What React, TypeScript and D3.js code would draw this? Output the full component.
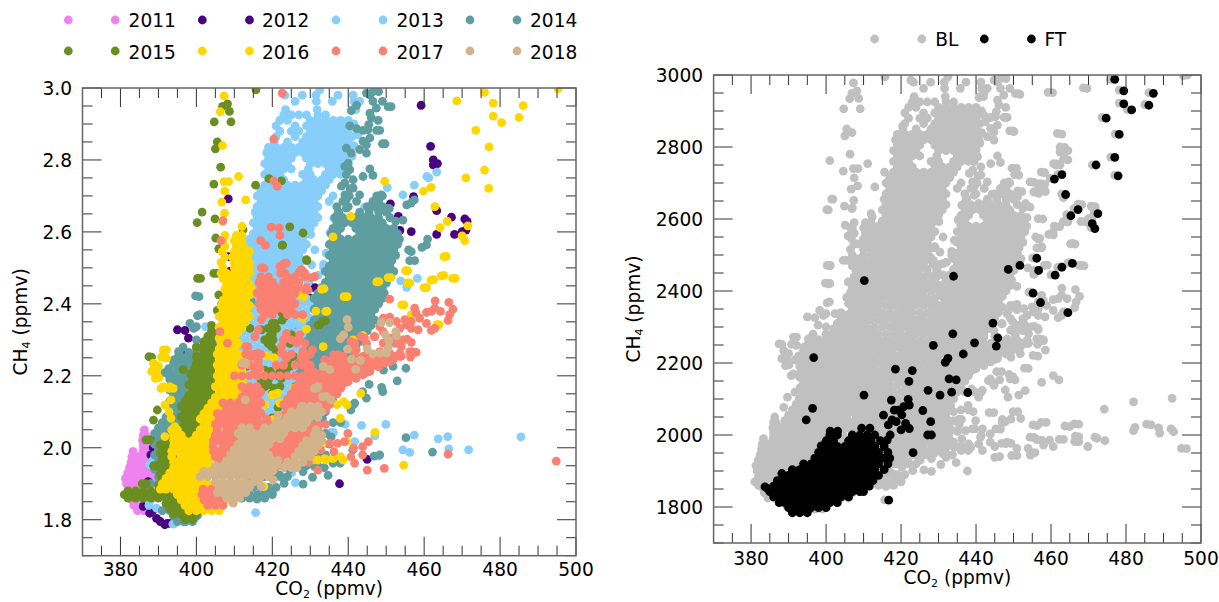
import React, { useRef, useEffect } from 'react';
import * as d3 from 'd3';

type Row = number[]; // [ch4, co2, co2, ...]
type Pair = [number, number]; // [co2, ch4]

// Values. Dense clouds are kept as rows: first number is CH4, the rest CO2.
const years = ['2011', '2012', '2013', '2014', '2015', '2016', '2017', '2018'];
const yearColors = ['#EE82EE', '#4B0082', '#87CEFA', '#5F9EA0', '#6B8E23', '#FFD700', '#FA8072', '#D2B48C'];

const rows2011: Row[] = [
  [2.05, 386.3], [2.035, 386, 386.6], [2.02, 385.8, 387], [2.005, 386, 387.4], [1.99, 383.3, 385.9, 387.5],
  [1.975, 383, 384.8, 386.6, 388], [1.96, 382.8, 384, 385.6, 387.4, 389], [1.945, 382.4, 383.6, 385.4, 387, 388.8],
  [1.93, 381.9, 383, 384.6, 386.2, 388, 389.5], [1.915, 381.3, 383.4, 385.2, 387, 389], [1.90, 381.6, 383, 384.6, 386.4, 388],
  [1.885, 382, 383.6, 385.4, 387.2], [1.87, 382.5, 384.4, 386.2], [1.855, 383, 384.8, 386.6, 388], [1.84, 383.5, 385.4, 387],
  [1.825, 384.5, 386.2],
];

const pairs2012: Pair[] = [
  [386, 1.837], [387.7, 1.818], [389.5, 1.804], [391.7, 1.786], [390.5, 1.795], [393, 1.79], [388.5, 1.825], [392.3, 1.79],
  [389, 2.03], [388.6, 2.0], [388, 1.98], [387.3, 1.906], [395, 2.328], [397, 2.326], [397.9, 2.305], [389.6, 2.015],
  [396, 2.263], [399.2, 2.2], [400.9, 2.217], [400.5, 2.18], [406.6, 2.397], [409.7, 2.532], [414.5, 2.561],
  [431.2, 2.445], [429.9, 2.416], [429.9, 2.357], [425.5, 2.328], [459.2, 2.952], [461.7, 2.838], [462.4, 2.8],
  [462.4, 2.786], [463.5, 2.79], [408.4, 2.692], [451.1, 2.678], [457.2, 2.698], [463.3, 2.659], [467.2, 2.641],
  [470.7, 2.636], [471.3, 2.629], [453.2, 2.643], [452.4, 2.605], [453.6, 2.604], [456.6, 2.601], [463.3, 2.593],
  [468, 2.593], [470, 2.601], [471, 2.605], [413.8, 2.561], [408.4, 2.531], [430.1, 2.446], [428.6, 2.415],
  [437.7, 1.9], [445, 1.968], [396.5, 2.24], [398.5, 2.2], [408.8, 2.49], [413.8, 2.49], [419, 2.38],
];

const rows2013: Row[] = [
  [2.925, 423, 425, 427, 429, 432, 434], [2.91, 422, 424, 430, 432, 434, 436, 438, 440], [2.895, 421, 426, 429, 431, 433, 435, 437, 439],
  [2.88, 422, 425, 427, 430, 432, 434, 436, 438, 440], [2.865, 421, 426, 429, 431, 433, 435, 437, 439, 441],
  [2.85, 420.5, 424, 428, 430, 432, 434, 436, 438, 440], [2.835, 419, 421, 423, 425, 427, 429, 431, 433, 435, 437, 439],
  [2.82, 418.5, 420, 422, 424, 426, 428, 430, 432, 434, 436, 438, 440], [2.805, 419, 421, 423, 425, 429, 431, 433, 435, 437, 439],
  [2.79, 418, 420, 422, 424, 430, 432, 434, 436, 438], [2.775, 419, 421, 423, 425, 429.5, 435, 437, 439],
  [2.76, 418, 420, 422, 428, 430, 434, 436, 438], [2.745, 419, 421, 423, 429, 431, 433, 435],
  [2.73, 418, 420, 422, 424, 426, 428, 430, 432, 434], [2.715, 417, 419, 421, 423, 425, 427, 429, 431, 433],
  [2.70, 416, 418, 420, 422, 424, 426, 428, 430, 432, 436], [2.685, 417, 419, 421, 423, 425, 427, 429, 431, 435],
  [2.67, 416, 418, 420, 422, 424, 426, 428, 430, 432], [2.655, 415.5, 417, 419, 421, 423, 425, 427, 429, 431],
  [2.64, 416, 418, 420, 422, 424, 426, 428, 430, 432], [2.625, 415, 417, 419, 421, 423, 425, 427, 429, 431],
  [2.61, 416, 418, 420, 422, 424, 426, 428, 430], [2.595, 415, 417, 419, 421, 423, 425, 427, 429],
  [2.58, 414, 416, 418, 420, 422, 424, 426, 428], [2.565, 413.5, 415, 417, 419, 421, 423, 425, 427, 429],
  [2.55, 414, 416, 418, 420, 422, 424, 426, 428], [2.535, 413, 415, 417, 419, 421, 423, 425, 427],
  [2.52, 414, 416, 418, 420, 422, 424, 426, 428], [2.505, 413, 415, 417, 419, 421, 423, 425, 427],
  [2.49, 414, 416, 418, 420, 422, 424, 426], [2.475, 413, 415, 417, 419, 421, 423, 425], [2.46, 412, 414, 416, 418, 420, 422, 424],
  [2.445, 413, 415, 417, 419, 421, 423], [2.43, 414, 416, 418, 420, 422, 424], [2.415, 413, 415, 417, 419, 421, 423, 427, 429],
  [2.40, 412, 414, 416, 418, 420, 422, 424, 426, 428, 430], [2.38, 411, 413, 415, 417, 419, 421, 423, 425, 427, 429],
  [2.36, 410, 412, 414, 416, 418, 420, 422, 424, 426, 428, 430], [2.34, 411, 413, 415, 417, 419, 421, 423, 425, 427, 429, 431],
  [2.32, 404, 412, 414, 416, 418, 420, 422, 424, 426, 428, 430], [2.30, 405, 411, 413, 415, 417, 419, 421, 423, 425, 427, 429, 431],
  [2.28, 404, 412, 414, 416, 418, 420, 422, 424, 426, 428, 430], [2.26, 403, 411, 413, 415, 417, 419, 421, 423, 425, 427, 429],
  [2.24, 402, 412, 414, 416, 418, 420, 422, 424, 426, 428, 430], [2.22, 411, 413, 415, 417, 419, 421, 423, 425, 427, 429, 431],
  [2.20, 412, 414, 416, 418, 420, 422, 424, 426, 428, 430], [2.18, 411, 413, 415, 417, 419, 421, 423, 425, 427, 429],
  [2.16, 412, 414, 416, 418, 420, 422, 424, 426, 428], [2.14, 411, 413, 415, 417, 419, 421, 423, 425, 427],
  [2.12, 412, 414, 416, 418, 420, 422, 424], [2.10, 411, 413, 415, 417, 419, 421, 423], [2.08, 418, 420, 422],
];
const pairs2013: Pair[] = [
  [423.3, 2.98], [427.9, 2.98], [431.5, 2.98], [437.3, 2.98], [441.3, 2.98], [426, 2.963], [431.6, 2.963],
  [435.8, 2.963], [441.5, 2.963], [443, 2.963], [423.5, 2.94], [431.8, 2.94], [441, 2.94], [442, 2.94], [432.5, 2.995],
  [415.6, 1.82], [435.4, 2.043], [439.2, 2.065], [443.5, 2.062], [449.9, 2.065], [447, 2.033], [457.4, 2.035],
  [463.7, 2.025], [466.2, 2.031], [466.5, 1.997], [454.4, 1.994], [456.2, 1.987], [471.7, 1.994], [485.5, 2.03],
  [441.7, 2.017], [448, 1.977], [426.1, 1.903], [425.1, 1.93], [393.8, 1.788], [396.5, 1.795], [388.6, 1.966],
  [387.7, 1.953], [387.6, 1.851], [389.5, 1.832], [394.3, 1.79], [397.4, 1.795], [399.6, 1.804], [436.1, 2.043],
  [407.4, 2.406], [427.6, 2.22], [431.1, 2.216], [402.4, 2.337], [402.9, 2.27], [463.3, 2.766], [460.7, 2.754],
  [461.2, 2.75], [457.4, 2.73], [454.4, 2.703], [450.3, 2.723], [444.3, 2.669], [436.2, 2.638], [430.1, 2.593],
  [435.2, 2.598], [434.2, 2.541], [430.4, 2.508], [432.1, 2.48], [453.8, 2.464], [455.4, 2.446], [458.2, 2.471],
  [450.1, 2.457], [431.2, 2.55], [433.5, 2.5], [429.5, 2.46], [431, 2.41], [433.5, 2.51], [389, 1.97], [387.5, 1.84],
  [441.5, 2.9], [442.5, 2.87], [441.5, 2.84], [441, 2.81],
];

const rows2014: Row[] = [
  [2.70, 447.5, 449], [2.685, 446.5, 448], [2.67, 437, 440, 445, 447, 449], [2.655, 437.5, 443, 445.5, 448, 450],
  [2.64, 436.5, 438.5, 440.5, 442, 444, 446, 448, 451], [2.625, 437, 439, 441, 443, 445, 447, 449],
  [2.61, 436, 438, 442, 444, 446, 448, 450, 452], [2.595, 435.5, 437, 443, 445, 447, 449, 451, 453],
  [2.58, 436, 438, 440, 442, 444, 446, 448, 450, 452, 453.5], [2.565, 435, 437, 439, 441, 443, 445, 447, 449, 451, 453],
  [2.55, 436, 438, 440, 442, 444, 446, 448, 450, 452], [2.535, 435, 437, 439, 441, 443, 445, 447, 449, 451, 452.5],
  [2.52, 436, 438, 440, 442, 444, 446, 448, 450, 451.5], [2.505, 435, 437, 439, 441, 443, 445, 447, 449, 451],
  [2.49, 434, 436, 438, 440, 442, 444, 446, 448, 450, 452], [2.475, 435, 437, 439, 441, 443, 445, 447, 449, 451],
  [2.46, 434, 436, 438, 440, 442, 444, 446, 448, 450], [2.445, 433, 435, 437, 439, 441, 443, 445, 447, 449],
  [2.43, 432, 434, 436, 438, 440, 442, 444, 446, 448, 449.5], [2.415, 431, 433, 435, 437, 439, 441, 443, 445, 447, 449],
  [2.40, 432, 434, 436, 438, 440, 442, 444, 446, 448], [2.385, 431, 433, 435, 437, 439, 441, 443, 445, 447],
  [2.37, 432, 434, 436, 438, 440, 442, 444, 446], [2.355, 431, 433, 435, 437, 439, 441, 443, 445, 447],
  [2.34, 430, 432, 434, 436, 438, 440, 442, 444, 446], [2.325, 431, 433, 435, 437, 439, 441, 443, 445],
  [2.31, 430, 432, 434, 436, 438, 440, 442, 444], [2.295, 429, 431, 433, 435, 437, 439, 441, 443],
  [2.28, 430, 432, 434, 436, 438, 440, 442], [2.265, 429, 431, 433, 435, 437, 439, 441], [2.25, 428, 430, 432, 434, 436, 438, 440],
  [2.235, 427, 429, 431, 433, 435, 437], [2.22, 428, 430, 432, 434, 436], [2.205, 427, 429, 431, 433, 435], [2.19, 428, 430, 432, 434],
  [2.17, 426, 428, 430, 432, 434, 436, 438], [2.15, 427, 429, 431, 433, 435, 437], [2.13, 426, 428, 430, 432, 434, 436],
  [2.10, 424, 426, 428, 430, 432, 434], [2.07, 423, 425, 427, 429, 431, 433, 436], [2.04, 422, 424, 426, 428, 430, 432, 434],
  [2.01, 421, 423, 425, 427, 429, 431, 433, 435], [1.98, 420, 422, 424, 426, 428, 430, 432, 434], [1.95, 419, 421, 423, 425, 427, 429, 432],
  [1.92, 414, 416, 418, 420, 422, 424], [1.89, 413, 415, 417, 419, 421], [1.87, 412, 414, 416, 418, 420],
  // left arm, under the 2015 and 2016 bands
  [2.30, 400], [2.28, 396.5, 400], [2.265, 395.5, 398, 400], [2.25, 395, 397, 399], [2.235, 394, 396, 398], [2.22, 392.7, 395, 397, 399],
  [2.205, 392.6, 394, 396, 398, 400], [2.19, 393, 395, 397, 399, 401], [2.175, 394, 396, 398, 400, 402], [2.16, 393, 395, 397, 399],
  [2.145, 394, 396, 398], [2.13, 393, 395, 397], [2.115, 394, 396], [2.10, 393, 395, 397], [2.085, 392, 394, 396], [2.07, 391, 393, 395],
  [2.055, 390, 392, 394, 396], [2.04, 389, 391, 393, 395], [2.025, 390, 392, 394, 396], [2.01, 389, 391, 393, 395], [1.995, 390, 392, 394],
  [1.98, 389, 391, 393, 395], [1.96, 390, 392, 394], [1.94, 389, 391, 393], [1.92, 390, 392], [1.90, 388, 390],
  [1.825, 391, 393, 395, 397, 399], [1.81, 394, 396, 398, 400], [1.795, 395, 397, 399],
];
const pairs2014: Pair[] = [
  [446.5, 2.99], [445.7, 2.981], [446.5, 2.963], [449, 2.963], [442.2, 2.952], [440.8, 2.937], [451.3, 2.948],
  [447.4, 2.944], [445.7, 2.93], [446.1, 2.917], [447.9, 2.91], [445.4, 2.898], [448.3, 2.882], [440.4, 2.895],
  [442.2, 2.887], [443.9, 2.882], [445.2, 2.884], [445.7, 2.861], [443.9, 2.852], [449.7, 2.845], [444.8, 2.842],
  [439.5, 2.833], [440.8, 2.819], [443, 2.829], [444.8, 2.819], [440, 2.791], [439.1, 2.782], [445.7, 2.775],
  [439.5, 2.759], [443.9, 2.754], [446.5, 2.757], [441.3, 2.745], [439.1, 2.736], [438.2, 2.727], [441.3, 2.722],
  [439.1, 2.703], [443, 2.703], [442.2, 2.685], [438.6, 2.685], [448.7, 2.703], [447.4, 2.68], [450.8, 2.665],
  [439.5, 2.666], [437.3, 2.652], [440.4, 2.773], [444.8, 2.986], [448, 2.99], [440.5, 2.72], [440.3, 2.7], [439.5, 2.69],
  [459.4, 2.557], [460.9, 2.58], [455.9, 2.55], [456.2, 2.52], [455.4, 2.675], [457.4, 2.689], [450.3, 2.666],
  [454.4, 2.633], [449, 2.845], [447.5, 2.882], [450.5, 2.948], [456.6, 2.545], [457.5, 2.52], [460.6, 2.564],
  [452.5, 2.63], [456.5, 2.68],
  [455.2, 2.221], [452.9, 2.186], [448.8, 2.168], [449.1, 2.156], [445.5, 2.176], [444.8, 2.138], [443.8, 2.156],
  [441.3, 2.119], [440.7, 2.105], [441.7, 2.124], [451.8, 2.226], [449.3, 2.216], [433.2, 2.082], [432.4, 2.068],
  [428.1, 1.934], [430.6, 1.918], [428.1, 1.899], [423.1, 1.901], [422, 1.924], [424.5, 1.94], [434.7, 1.923],
  [433.7, 1.945], [431.1, 1.948], [437.9, 1.957], [436, 1.957], [441.2, 1.994], [455.2, 2.028], [462.2, 1.988],
  [446.8, 1.977], [448.3, 1.98], [420, 1.874], [418, 1.872], [416, 1.857], [414, 1.86], [412, 1.86], [418, 1.86],
  [400.3, 1.813], [398.8, 1.804], [396.8, 1.795], [394.5, 1.82], [392.5, 1.84],
  [391.7, 2.209], [394.1, 2.244], [395.3, 2.267], [399.3, 2.332], [400.3, 2.367], [398.3, 2.346], [400.7, 2.42],
  [400.9, 2.37], [400, 2.337], [414.5, 2.406], [399.8, 2.422], [435.5, 2.03], [438, 2.07],
];

const rows2015: Row[] = [
  [1.88, 382, 384, 386, 388, 390, 392, 394], [1.87, 381, 383, 385, 387, 389, 391, 393, 395, 397], [1.86, 382, 384, 386, 388, 390, 392, 394, 396],
  [1.845, 392, 394, 396, 398], [1.83, 393, 395, 397, 399], [1.815, 394, 396, 398, 400], [1.80, 397, 399],
  [1.895, 390, 392, 394], [1.91, 391, 393], [1.925, 390.5, 392.5, 394], [1.94, 391, 393], [1.955, 390.5, 392.5, 394], [1.97, 391, 393],
  [1.985, 390.5, 392.5, 394], [2.0, 391, 393], [2.015, 391.5, 393.5], [2.025, 398, 400], [2.04, 397, 399, 401], [2.055, 396, 398, 400],
  [2.07, 397, 399, 401], [2.085, 396, 398, 400, 402], [2.10, 397, 399, 401, 403], [2.115, 396, 398, 400, 402, 404],
  [2.13, 397, 399, 401, 403, 405], [2.145, 398, 400, 402, 404, 406], [2.16, 399, 401, 403, 405], [2.175, 398, 400, 402, 404],
  [2.19, 399, 401, 403, 405], [2.205, 398.5, 400, 402, 404], [2.22, 399.5, 401, 403, 405], [2.235, 400, 402, 404], [2.25, 401, 403, 405],
  [2.265, 402, 404], [2.28, 401.5, 403, 405], [2.295, 402, 404], [2.31, 403, 405], [2.325, 404, 405.5], [2.34, 404],
];
const pairs2015: Pair[] = [
  [401.1, 2.471], [405.4, 2.485], [406, 2.553], [422.7, 2.563], [429.1, 2.52], [388.2, 2.252], [405.5, 2.382], [405.3, 2.306],
  [400, 2.279], [400, 2.254], [396.5, 2.217], [432.5, 2.343], [434, 2.353], [415.7, 2.995], [408.2, 2.956], [406.9, 2.949],
  [408.7, 2.935], [404.7, 2.906], [409.1, 2.906], [405.5, 2.85], [405, 2.831], [406.4, 2.78], [404.6, 2.733], [415.6, 2.73],
  [419.1, 2.748], [422.4, 2.742], [401.5, 2.655], [400.2, 2.626], [404.9, 2.636], [405.1, 2.583], [405.9, 2.553], [424.6, 2.614],
  [428.1, 2.597], [422.6, 2.563], [412.3, 2.606], [429, 2.523], [400.3, 2.471], [404.6, 2.485], [405.9, 2.425],
  [387.5, 2.253], [389.7, 2.105], [388.7, 2.077], [386.7, 2.022], [388.7, 1.95], [385.7, 1.9], [386.8, 1.9], [389.5, 1.948],
  [390.4, 2.008], [387.7, 2.022], [419.3, 2.309], [420.2, 2.3], [418.9, 2.291], [419.8, 2.281], [421.1, 2.332], [418.9, 2.332],
  [417.1, 2.328], [414.1, 2.332], [420.7, 2.346], [423.7, 2.383], [423.3, 2.365], [422.4, 2.42], [425.5, 2.254], [424.6, 2.226],
  [422, 2.212], [422.4, 2.193], [422, 2.17], [418.9, 2.175], [418, 2.175], [413.2, 2.226], [417, 2.189], [419.5, 2.212], [418, 2.17],
  [420, 2.151], [418, 2.216], [422.6, 2.355], [420, 2.346], [422.6, 2.374], [425.1, 2.253], [425.1, 2.314], [424.6, 2.29],
  [433.2, 2.351], [432.1, 2.341], [420, 2.083], [421.5, 2.112], [419, 2.29], [421, 2.27], [420, 2.315], [418, 2.3], [421.5, 2.2],
  [423.5, 2.21], [424, 2.24], [419, 2.19], [420.5, 2.165],
];

const rows2016: Row[] = [
  [1.825, 398, 400, 402, 404, 406], [1.84, 397, 399, 401, 403, 405, 407], [1.855, 396, 398, 400, 402, 404, 406, 408],
  [1.87, 395, 397, 399, 401, 403, 405, 407], [1.885, 390.5, 392, 394, 396, 398, 400, 402, 404], [1.90, 391, 393, 395, 397, 399, 401, 403],
  [1.915, 392, 394, 396, 398, 400, 402], [1.93, 393, 395, 397, 399, 401, 403], [1.945, 394, 396, 398, 400, 402, 404],
  [1.96, 394, 395, 397, 399, 401, 403], [1.975, 393.5, 396, 398, 400, 402, 404], [1.99, 393.5, 395, 397, 399, 401, 403, 405],
  [2.005, 394, 396, 398, 400, 402, 404], [2.02, 394, 395, 397, 399, 401, 403, 405], [2.035, 394, 396, 400, 402, 404, 405.5],
  [2.05, 393.5, 395, 401, 403, 405], [2.065, 402, 404, 406], [2.08, 401, 403, 405, 407], [2.095, 402, 404, 406, 408],
  [2.11, 403, 405, 407, 409], [2.125, 404, 406, 408, 410], [2.14, 405, 407, 409, 411], [2.155, 406, 408, 410, 412],
  [2.17, 405, 407, 409, 411, 413], [2.185, 406, 408, 410, 412], [2.20, 405.5, 407, 409, 411, 412.5], [2.215, 406, 408, 410, 412],
  [2.23, 405.5, 407, 409, 411], [2.245, 406, 408, 410, 411.5], [2.26, 405.5, 407, 409, 411], [2.275, 406, 408, 410],
  [2.29, 406.5, 407, 409, 411], [2.305, 406, 408, 410], [2.32, 406.5, 407.5, 409, 411], [2.335, 406, 408, 410, 412],
  [2.35, 407, 409, 411, 413], [2.365, 406, 408, 410, 412, 414], [2.38, 407, 409, 411, 413], [2.395, 406.5, 408, 410, 412, 414],
  [2.41, 407, 409, 411, 413], [2.425, 408, 410, 412, 414], [2.44, 407.5, 409, 411, 413, 414.5], [2.455, 408, 410, 412, 414],
  [2.47, 407, 409, 411, 413], [2.485, 406.5, 408, 410, 412, 414], [2.50, 407, 410, 412, 414], [2.515, 406.5, 410, 412, 414],
  [2.53, 407.5, 409.5, 411.5, 413.5], [2.545, 406.8, 410, 412, 414], [2.56, 407.5, 410.5, 412.5], [2.575, 407, 410, 412], [2.59, 407.5, 410.5, 412],
];
const pairs2016: Pair[] = [
  [412, 2.615], [391.3, 2.272], [392.1, 2.272], [390.8, 2.252], [392.1, 2.249], [389, 2.23], [390, 2.226], [389.5, 2.212],
  [390.1, 2.195], [391.3, 2.17], [393, 2.17], [393.9, 2.165], [388.7, 2.235], [388.2, 2.212], [389.2, 2.193], [390.7, 2.165],
  [392.8, 2.165], [393.3, 2.133], [391.7, 2.119], [392.8, 2.1], [393.3, 2.082], [394.3, 2.059], [391.7, 2.031],
  [468.6, 2.964], [475.9, 2.988], [478.2, 2.958], [486.1, 2.951], [478.2, 2.922], [480.4, 2.904], [485, 2.918], [473.6, 2.882],
  [477.1, 2.836], [475.9, 2.772], [471, 2.75], [477, 2.721], [449.6, 2.741], [459.8, 2.713], [461.8, 2.724], [462.8, 2.67],
  [466.1, 2.629], [464.2, 2.612], [471.5, 2.617], [470, 2.589], [470.7, 2.576], [440.7, 2.643], [436, 2.586], [465.2, 2.531],
  [455.1, 2.492], [447.5, 2.461], [450.5, 2.473], [455.6, 2.458], [460, 2.445], [461.8, 2.466], [464.5, 2.478], [467.5, 2.471],
  [433, 2.441], [438.9, 2.42], [427.8, 2.422], [407.3, 2.978], [406.3, 2.934], [406.9, 2.84], [411.1, 2.754], [407.3, 2.74],
  [408.5, 2.74], [407.5, 2.714], [406.7, 2.683], [413, 2.689], [407.4, 2.652], [406.9, 2.629], [495.3, 2.998],
  [465.8, 2.532], [465.2, 2.479], [468.2, 2.471], [462.5, 2.467], [460.6, 2.445], [455.7, 2.492], [456.2, 2.458], [451.2, 2.473],
  [448.1, 2.462], [439.7, 2.42], [434.1, 2.379], [433.6, 2.442], [454.7, 2.397], [456.6, 2.37], [463.9, 2.342], [441.3, 2.3],
  [443.9, 2.312], [433.4, 2.281], [437.9, 2.082], [447, 2.043], [454.6, 1.952], [443.3, 2.151], [439.7, 2.119], [438.8, 2.128],
  [438, 1.975], [434.2, 1.966], [432, 1.966], [439.7, 2.017], [417.5, 1.894], [463.3, 2.342], [454.1, 2.397], [433.2, 2.013],
  [430.8, 1.966], [413.5, 2.114], [415, 2.11], [420, 2.147], [421, 2.15], [424.1, 2.133], [425.1, 2.124], [422, 2.124], [425.6, 2.165],
  [407.9, 2.091], [419.5, 2.068], [419, 2.059], [421.5, 2.152], [414.9, 2.115], [419.3, 2.055], [420.2, 2.078], [433.8, 1.97],
  [436, 1.97], [438.6, 1.966], [417.8, 1.892], [435, 2.13], [437, 2.12], [429, 2.33], [428.3, 2.42], [431.5, 2.38], [434.4, 2.38],
  [413.4, 2.243], [418.5, 2.255], [420.5, 2.25], [416.8, 2.21], [428, 2.36], [408.5, 2.1], [411, 2.1], [413, 2.13], [418, 2.12],
];

const rows2017: Row[] = [
  [1.84, 403, 405, 407], [1.855, 402, 404, 406], [1.87, 401.5, 403, 405], [1.885, 401.8, 404],
  [1.945, 419, 421], [1.96, 406, 408, 410, 420, 422, 424], [1.975, 405, 407, 409, 411, 421, 423, 425],
  [1.99, 404.5, 406, 408, 410, 412, 420, 422, 424, 426, 428], [2.005, 404.4, 407, 409, 411, 413, 421, 423, 425, 427, 429],
  [2.02, 404.5, 406, 408, 410, 412, 414, 424, 426, 428, 430], [2.035, 405, 407, 409, 411, 413, 415, 417, 425, 427, 429, 431],
  [2.05, 405.5, 408, 410, 412, 414, 416, 418, 428, 430, 432], [2.065, 405, 407, 409, 411, 413, 415, 417, 419, 430, 432, 434],
  [2.08, 406, 408, 410, 412, 414, 416, 418.5], [2.09, 423, 425, 427, 429], [2.095, 405.5, 407, 409, 411, 413, 415, 417],
  [2.105, 424, 426, 428, 430, 432, 434], [2.11, 408, 410, 412, 414, 416], [2.12, 423, 425, 427, 429, 431, 433, 435],
  [2.125, 407, 409, 411, 413, 415, 417], [2.135, 424, 426, 428, 430, 432, 434], [2.14, 412, 414, 416],
  [2.15, 425, 427, 429, 431, 433, 435, 437], [2.155, 413, 415, 417], [2.165, 426, 428, 430, 432, 434, 436, 438],
  [2.17, 412, 414, 416], [2.18, 427, 429, 431, 433, 435, 437, 439], [2.195, 430, 432, 434, 436, 438, 440, 442],
  [2.21, 431, 433, 435, 437, 439, 441, 443, 445], [2.225, 434, 436, 438, 440, 442, 444, 446, 448],
  [2.24, 435, 437, 439, 441, 443, 445, 447, 449, 451], [2.255, 438, 442, 444, 446, 448, 450, 452, 454],
  [2.20, 410, 412, 414, 416, 418, 420, 422, 424, 426, 428], [2.23, 412, 414, 416, 421, 423, 426, 428, 430],
  [2.26, 413, 415, 417, 423, 425, 428, 430], [2.30, 423, 425, 427],
  [2.37, 418, 420, 424, 426, 428], [2.385, 417, 419, 421, 423, 425], [2.40, 416.5, 418, 420, 422, 424, 426],
  [2.415, 417, 419, 421, 423, 425], [2.43, 416, 418, 420, 422, 424, 426], [2.445, 417, 419, 421, 423, 425, 427, 429],
  [2.46, 416.5, 418, 420, 423, 425, 427], [2.475, 417, 419, 424, 426, 428.5],
];
const pairs2017: Pair[] = [
  [450.9, 2.413], [462.9, 2.408], [466.5, 2.404], [457.5, 2.388], [457.9, 2.374], [467.6, 2.385], [462.8, 2.388], [460.6, 2.376],
  [461.9, 2.379], [464.3, 2.379], [466.7, 2.37], [466.3, 2.354], [460.6, 2.346], [462.8, 2.332], [461.9, 2.326], [458.4, 2.328],
  [458.8, 2.36], [456.6, 2.351], [454.9, 2.356], [455.3, 2.342], [456.6, 2.332], [452.7, 2.351], [450.9, 2.363], [449.2, 2.36],
  [453.6, 2.332], [448.3, 2.337], [449.2, 2.323], [455.5, 2.302], [456.6, 2.293], [454, 2.281], [457.9, 2.265], [456.2, 2.267],
  [456.4, 2.252], [453.6, 2.254], [451.8, 2.244], [449.6, 2.235], [447.9, 2.226], [445.7, 2.212], [443.9, 2.203], [442.1, 2.193],
  [440, 2.184], [437.8, 2.175], [436, 2.166], [453.6, 2.263], [450.9, 2.263], [450, 2.249], [448.3, 2.24], [445.7, 2.235],
  [443.9, 2.226], [441.7, 2.221], [440, 2.212], [437.8, 2.207], [436, 2.203], [435.1, 2.189], [447, 2.309], [444.3, 2.305],
  [441.7, 2.291], [442.1, 2.272], [449.2, 2.291], [451.4, 2.305], [452.7, 2.3], [437.3, 2.258], [438.6, 2.254], [433.8, 2.244], [436, 2.24],
  [417.8, 2.499], [423.7, 2.513], [422.8, 2.508], [423.3, 2.485], [427.7, 2.495], [428.6, 2.485], [431.2, 2.476], [429.4, 2.439],
  [406.2, 2.323], [408.2, 2.291], [417.1, 2.356], [416.3, 2.328], [415.4, 2.309],
  [427.2, 2.314], [423.7, 2.318], [422.9, 2.3], [422.4, 2.281], [426.4, 2.291], [428.6, 2.291], [430.6, 2.272], [428.1, 2.268],
  [427.7, 2.249], [428.6, 2.244], [423.7, 2.249], [422.9, 2.23], [422.4, 2.263], [413.6, 2.281], [414.5, 2.254], [416.3, 2.263],
  [416.3, 2.24], [415.4, 2.212], [416.7, 2.221], [429.4, 2.217], [433.8, 2.244],
  [413, 2.281], [413.5, 2.258], [436.2, 2.258], [437.7, 2.235], [440.7, 2.295], [440.7, 2.272], [444.3, 2.253], [443.3, 2.309],
  [446.8, 2.309], [444.8, 2.29], [448.3, 2.267], [452.4, 2.29], [454.4, 2.3], [456.9, 2.267],
  [422.6, 2.986], [420.4, 2.858], [420.4, 2.742], [421.3, 2.727], [407, 2.631], [406.5, 2.576], [419.7, 2.613], [421.8, 2.611],
  [422, 2.59], [416.9, 2.576], [418.2, 2.563], [417.1, 2.5], [422, 2.504], [423.1, 2.512], [422.2, 2.485], [427.1, 2.488],
  [428.1, 2.49], [430.3, 2.473], [428.6, 2.44],
  [439.9, 2.04], [435.2, 2.012], [437.2, 2.012], [439, 2.017], [436.2, 1.989], [440.7, 1.975], [441.4, 1.999], [443.8, 2.003],
  [445.3, 2.017], [443.8, 1.98], [441.7, 1.957], [445, 1.938], [449.5, 1.943], [432, 1.938], [432.7, 1.994], [466.3, 1.982], [494.8, 1.963],
  [429.5, 1.96],
];

const rows2018: Row[] = [
  [1.846, 409.7], [1.86, 408, 410, 411.4], [1.875, 405.5, 407, 409, 411, 413], [1.89, 406, 408, 410, 412, 414],
  [1.905, 405, 407, 409, 411, 413, 415, 416.5], [1.92, 401, 403, 405, 407, 409, 411, 413, 415, 417, 419],
  [1.935, 402, 404, 406, 408, 410, 412, 414, 416, 418, 420], [1.945, 423, 425, 426.5], [1.95, 405, 407, 409, 411, 413, 415, 417, 419, 421],
  [1.96, 424, 426, 428], [1.965, 408, 410, 412, 414, 416, 418, 420, 421.5], [1.975, 426, 428, 430], [1.98, 409, 411, 413, 415, 417, 419],
  [1.99, 427, 429, 431], [1.995, 410, 412, 414, 416, 418], [2.005, 428, 430, 432], [2.01, 411, 413, 415, 417, 419],
  [2.02, 429, 431, 433], [2.025, 412, 414, 416, 418, 420, 422], [2.035, 431, 433], [2.04, 411, 413, 415, 417, 419, 421, 423],
  [2.05, 431.5], [2.055, 412, 414, 418, 420, 422, 424, 426, 428], [2.07, 421, 423, 425, 427, 429], [2.085, 424, 426, 428, 430, 432],
  [2.10, 425, 427, 429, 431, 433], [2.115, 428, 430, 432],
];
const pairs2018: Pair[] = [
  [420.2, 1.911], [417.1, 1.892], [412.9, 2.133], [431.9, 2.166], [434.2, 2.143], [435.5, 2.133], [428.1, 2.115], [421.5, 2.09],
  [439.7, 2.356], [440, 2.335], [438.8, 2.314], [437.9, 2.303], [439.8, 2.274], [448.7, 2.348], [450.9, 2.348], [452.5, 2.323],
  [452.7, 2.311], [449.8, 2.314], [450.7, 2.298], [450.5, 2.277], [450, 2.263], [448.3, 2.263], [446.5, 2.261], [445, 2.275],
  [440.8, 2.246], [443.2, 2.243], [442, 2.218], [435.1, 2.217], [433.4, 2.226], [413, 2.233], [432, 2.17], [412, 2.235],
  [431.1, 2.165], [433.2, 2.142], [427.6, 2.114],
];

// grey points seen only in the right panel
const pairsBLExtra: Pair[] = [
  [482, 2092], [492.3, 2102], [474.2, 2072], [482.4, 2021], [482, 2012], [486.7, 2028], [488.7, 2020], [489, 2005], [492, 2017],
  [492.7, 2009], [496.1, 1962], [464.9, 2023], [467.4, 2030], [456.3, 2026], [458.7, 2035], [455.5, 1993], [457.5, 1986], [458, 1972],
  [459.6, 1986], [460.6, 1968], [463.3, 1988], [467.4, 1995], [467.4, 1981], [469.8, 1968], [472.3, 1991], [474.4, 1984], [453.9, 1963],
  [454.5, 1944], [455.7, 1951], [450.9, 1963], [450.9, 1943], [449.3, 1977], [447.8, 1977], [446.3, 1940], [451.1, 2065], [451.9, 2046],
  [449.3, 2044], [447.8, 2037], [444.7, 2062], [446.5, 2016], [460.6, 2165], [462.1, 2153], [457.5, 2146], [453.9, 2185], [449.8, 2162],
  [450.4, 2153], [447.8, 2125], [448.5, 2105], [451.4, 2111], [453.1, 2123], [446.3, 2153], [444.7, 2143], [446.8, 2176], [456.5, 2219],
  [458.5, 2236], [458, 2262], [456.5, 2296], [462.9, 2836], [463.6, 2799], [463.4, 2782], [464.5, 2790], [464.5, 2764], [461.6, 2753],
  [462.4, 2750], [458.3, 2729], [455.5, 2702], [458.3, 2696], [456.7, 2671], [458.5, 2676], [452.2, 2676], [451.1, 2662], [450.8, 2741],
  [451.4, 2722], [468.2, 2640], [471.8, 2634], [469.3, 2593], [470.8, 2602], [464.5, 2592], [462.3, 2579], [460.6, 2556], [457.8, 2600],
  [466.4, 2530], [468.8, 2470], [459, 2472], [457.5, 2523], [457, 2546], [469.6, 2963], [460.4, 2951], [451.7, 2946], [450.1, 2843],
  [496.4, 3000], [401, 2762], [401, 2470], [401, 2421], [400.6, 2625], [401.8, 2655],
];

const pairsFT: Pair[] = [
  [477, 2988], [479.4, 2956], [487.3, 2949], [479.4, 2920], [481.5, 2903], [486.1, 2916], [474.7, 2880], [478.2, 2835], [477, 2771],
  [472, 2750], [477.9, 2720], [460.9, 2711], [462.9, 2723], [463.9, 2668], [467.2, 2626], [465.3, 2609], [472.5, 2615], [471, 2587],
  [471.7, 2573], [456.2, 2491], [451.7, 2471], [448.6, 2460], [456.7, 2457], [465.7, 2477], [462.9, 2466], [461.1, 2444], [410.2, 2429],
  [434, 2441], [455.2, 2394], [457.2, 2368], [464.5, 2340], [444.5, 2311], [433.8, 2281], [445.8, 2270], [439.6, 2256], [428.6, 2249],
  [445.4, 2247], [436.6, 2225], [432.5, 2213], [431.8, 2202], [396.7, 2215], [418.5, 2183], [423, 2179], [432.8, 2156], [434.7, 2153],
  [422.1, 2149], [427.2, 2124], [433.5, 2119], [437.8, 2118], [430.4, 2111], [410.1, 2111], [417.4, 2097], [421.9, 2099], [396.4, 2074],
  [425.8, 2068], [415.3, 2055], [394.7, 2042], [427.9, 2037], [422.2, 2018], [416.6, 2028], [417.6, 2042], [418.2, 2069], [419.2, 2069],
  [420.7, 2079], [422.2, 2083], [420.2, 2056], [418.7, 2037], [421.2, 2032], [420, 2014], [417.1, 2000], [416.3, 1986], [427.1, 2000],
  [428.1, 2000], [423.2, 1951], [416.7, 1819], [401.1, 2011], [403.1, 2011], [409.5, 2019], [411.7, 2019], [398.7, 1970], [388.2, 1893],
  [383.7, 1856], [384.5, 1850],
];
const rowsFT: Row[] = [
  [1784, 391, 393, 395], [1798, 390, 392, 394, 396, 398, 400], [1812, 387.5, 389, 391, 393, 395, 397, 399, 401, 403],
  [1828, 386, 388, 390, 392, 394, 396, 398, 400, 402, 404, 406], [1843, 385, 387, 389, 391, 393, 395, 397, 399, 401, 403, 405, 407, 409, 410],
  [1858, 386, 388, 390, 392, 394, 396, 398, 400, 402, 404, 406, 408, 410, 411.5],
  [1873, 387, 389, 391, 393, 395, 397, 399, 401, 403, 405, 407, 409, 411, 412.5],
  [1888, 390, 392, 394, 396, 398, 400, 402, 404, 406, 408, 410, 412, 414],
  [1904, 391, 393, 395, 397, 399, 401, 403, 405, 407, 409, 411, 413, 415.5],
  [1920, 394, 396, 398, 400, 402, 404, 406, 408, 410, 412, 414, 416.5],
  [1936, 397, 399, 401, 403, 405, 407, 409, 411, 413, 415, 417],
  [1952, 398, 400, 402, 404, 406, 408, 410, 412, 414, 416.5],
  [1968, 399, 401, 403, 405, 407, 409, 411, 413, 415.5],
  [1984, 400, 402, 406, 408, 410, 412, 414.5], [2000, 401, 403, 407, 409, 411, 413],
];

const tiltRows = (rows: Row[]): Pair[] => rows.flatMap(([ch4, ...co2]) => co2.map((c): Pair => [c, ch4]));

const yearPoints: Pair[][] = [
  tiltRows(rows2011),
  pairs2012,
  [...tiltRows(rows2013), ...pairs2013],
  [...tiltRows(rows2014), ...pairs2014],
  [...tiltRows(rows2015), ...pairs2015],
  [...tiltRows(rows2016), ...pairs2016],
  [...tiltRows(rows2017), ...pairs2017],
  [...tiltRows(rows2018), ...pairs2018],
];
// the right panel is the same flights, split by layer instead of year
const pointsBL: Pair[] = [...yearPoints.flat().map(([c, m]): Pair => [c, m * 1000]), ...pairsBLExtra];
const pointsFT: Pair[] = [...tiltRows(rowsFT), ...pairsFT];

const FONT = 'DejaVu Sans';
const R = 4.4;

function drawPanel(svg, id, box, yDomain, yMajor, yMinor, yFormat, series, yLabelX, tickDy, labelY) {
  const x = d3.scaleLinear().domain([370, 500]).range([box.left, box.right]);
  const y = d3.scaleLinear().domain(yDomain).range([box.bottom, box.top]);
  const g = svg.append('g');

  g.append('clipPath').attr('id', id).append('rect')
    .attr('x', box.left).attr('y', box.top)
    .attr('width', box.right - box.left).attr('height', box.bottom - box.top);

  series.forEach(s => {
    g.append('g').attr('clip-path', `url(#${id})`)
      .selectAll('circle').data(s.points).join('circle')
      .attr('cx', d => x(d[0])).attr('cy', d => y(d[1])).attr('r', R).attr('fill', s.color);
  });

  const xMajor = d3.range(380, 501, 20);
  const xMinor = d3.range(375, 501, 5).filter(v => !xMajor.includes(v));
  const ticks = g.append('g').attr('stroke', '#333').attr('stroke-width', 1);
  const vTick = (v, len) => {
    ticks.append('line').attr('x1', x(v)).attr('x2', x(v)).attr('y1', box.bottom).attr('y2', box.bottom - len);
    ticks.append('line').attr('x1', x(v)).attr('x2', x(v)).attr('y1', box.top).attr('y2', box.top + len);
  };
  const hTick = (v, len) => {
    ticks.append('line').attr('y1', y(v)).attr('y2', y(v)).attr('x1', box.left).attr('x2', box.left + len);
    ticks.append('line').attr('y1', y(v)).attr('y2', y(v)).attr('x1', box.right).attr('x2', box.right - len);
  };
  xMajor.forEach(v => vTick(v, 19));
  xMinor.forEach(v => vTick(v, 10));
  yMajor.forEach(v => hTick(v, 19));
  yMinor.forEach(v => hTick(v, 10));

  g.append('rect')
    .attr('x', box.left).attr('y', box.top)
    .attr('width', box.right - box.left).attr('height', box.bottom - box.top)
    .attr('fill', 'none').attr('stroke', '#666').attr('stroke-width', 1.5);

  const text = g.append('g').attr('font-family', FONT).attr('font-size', 18.6).attr('fill', '#000');
  xMajor.forEach(v => {
    text.append('text').attr('x', x(v)).attr('y', box.bottom + tickDy).attr('text-anchor', 'middle').text(v);
  });
  yMajor.forEach(v => {
    text.append('text').attr('x', box.left - 10.5).attr('y', y(v) + 6.8).attr('text-anchor', 'end').text(yFormat(v));
  });

  const xl = text.append('text').attr('x', (box.left + box.right) / 2).attr('y', labelY).attr('text-anchor', 'middle');
  xl.append('tspan').text('CO');
  xl.append('tspan').attr('font-size', 11).attr('dy', 3).text('2');
  xl.append('tspan').attr('dy', -3).text(' (ppmv)');

  const yl = text.append('text').attr('text-anchor', 'middle')
    .attr('transform', `translate(${yLabelX},${(box.top + box.bottom) / 2}) rotate(-90)`);
  yl.append('tspan').text('CH');
  yl.append('tspan').attr('font-size', 11).attr('dy', 3).text('4');
  yl.append('tspan').attr('dy', -3).text(' (ppmv)');
}

function legendEntry(svg, x1, x2, tx, cy, base, color, label) {
  svg.selectAll(null).data([x1, x2]).join('circle')
    .attr('cx', d => d).attr('cy', cy).attr('r', R).attr('fill', color);
  svg.append('text').attr('x', tx).attr('y', base)
    .attr('font-family', FONT).attr('font-size', 18.6).text(label);
}

const App = () => {
  const svgRef = useRef<SVGSVGElement>(null);

  useEffect(() => {
    const svg = d3.select(svgRef.current);
    svg.selectAll('*').remove();

    drawPanel(svg, 'clipL', { left: 82.5, right: 576, top: 88, bottom: 555.7 }, [1.7, 3.0],
      [1.8, 2.0, 2.2, 2.4, 2.6, 2.8, 3.0],
      d3.range(0, 27).map(v => +(1.7 + v * 0.05).toFixed(2)).filter(v => Math.round(v * 100) % 20 !== 0),
      d => d.toFixed(1),
      years.map((_, i) => ({ color: yearColors[i], points: yearPoints[i] })),
      27, 20.5, 595);

    drawPanel(svg, 'clipR', { left: 713.6, right: 1201, top: 75, bottom: 543 }, [1700, 3000],
      d3.range(1800, 3001, 200),
      d3.range(1700, 3001, 50).filter(v => v % 200 !== 0),
      d => String(d),
      [{ color: '#C0C0C0', points: pointsBL }, { color: '#000', points: pointsFT }],
      640, 22, 584);

    const slots = [[68.3, 115.2, 128.6], [202.3, 249.5, 262], [336, 383, 396.5], [470, 517, 530]];
    years.forEach((label, i) => {
      const [x1, x2, tx] = slots[i % 4];
      const row = i < 4 ? [20, 27] : [51, 58.5];
      legendEntry(svg, x1, x2, tx, row[0], row[1], yearColors[i], label);
    });
    legendEntry(svg, 874.6, 921.8, 935.2, 39, 45.7, '#C0C0C0', 'BL');
    legendEntry(svg, 984.3, 1031.4, 1044.5, 39, 45.7, '#000', 'FT');
  }, []);

  return (
    <div style={{ position: 'absolute', left: 0, top: 0 }}>
      <svg ref={svgRef} width={1219} height={602} style={{ display: 'block' }}></svg>
    </div>
  );
};

export default App;
